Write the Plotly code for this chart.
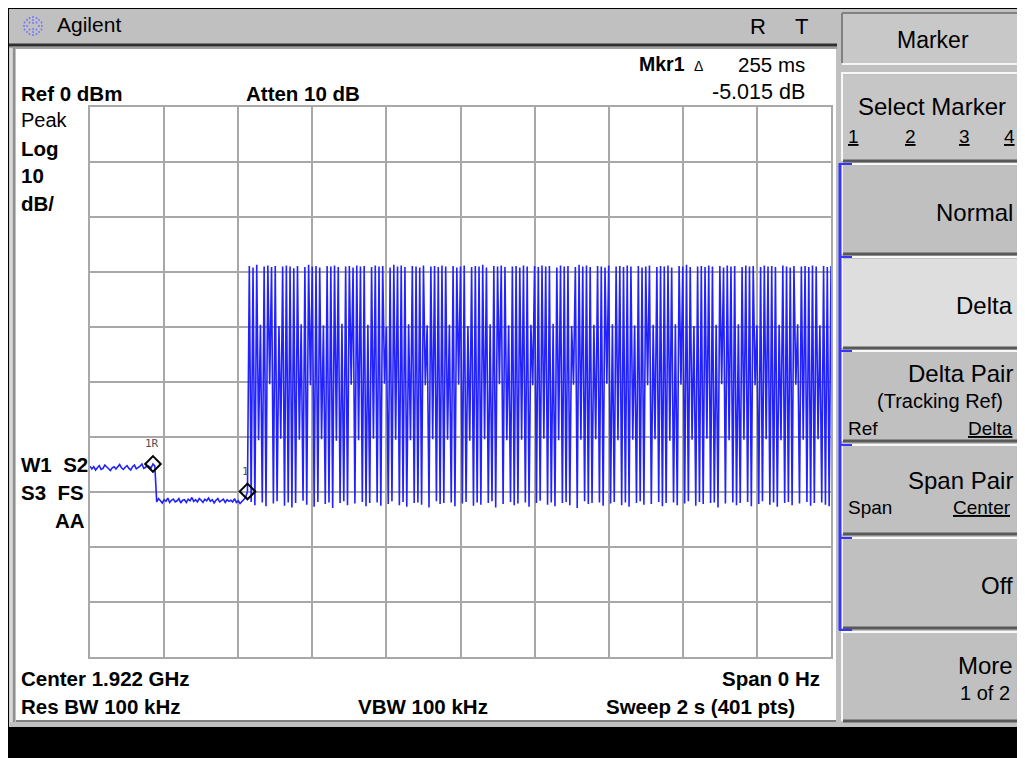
import plotly.graph_objects as go

sweep_time_s = 2.0
n_points = 401
ref_level_dbm = 0
db_per_div = 10

# before the marker-1R step (sweep points 0..35)
pre_step_dbm = [-65.3, -65.8, -65.4, -66.0, -65.6, -65.2, -65.9, -65.7, -65.1, -65.5,
                -65.9, -66.1, -65.6, -65.4, -65.8, -65.3, -65.0, -65.6, -65.9, -65.5,
                -65.2, -65.7, -66.0, -65.4, -65.1, -65.8, -65.6, -65.3, -64.9, -65.7,
                -65.5, -65.2, -65.4, -65.6, -64.9, -65.3]
# quiet interval between the step and the burst train (points 36..85)
post_step_dbm = [-71.8, -71.2, -71.6, -72.0, -71.4, -71.7, -71.1, -71.9, -71.5, -71.3,
                 -71.8, -71.6, -71.2, -72.0, -71.5, -71.4, -71.9, -71.3, -71.6, -71.0,
                 -71.7, -71.4, -71.8, -71.2, -71.5, -71.9, -71.3, -71.6, -71.1, -71.7,
                 -71.4, -72.0, -71.5, -71.2, -71.8, -71.6, -71.3, -71.9, -71.4, -71.7,
                 -71.5, -71.8, -71.2, -71.9, -71.6, -72.1, -71.7, -71.4, -71.0, -69.9]
# burst train: peak samples (even points 86..400)
burst_peak_dbm = [
    -28.9, -29.2, -28.7, -39.6, -29.0, -28.8, -29.1, -28.9, -39.8, -29.0,
    -28.8, -29.0, -29.3, -28.9, -39.5, -29.1, -28.7, -29.0, -28.9, -29.2,
    -39.7, -28.9, -29.0, -28.8, -29.1, -39.4, -29.0, -28.9, -29.2, -28.8,
    -29.0, -28.9, -39.6, -29.1, -28.8, -29.0, -28.9, -39.9, -29.2, -28.7,
    -29.0, -28.8, -29.1, -39.5, -28.9, -29.0, -29.2, -28.8, -39.7, -29.0,
    -28.9, -29.1, -28.8, -29.0, -39.6, -28.9, -29.2, -29.0, -28.8, -39.8,
    -29.1, -28.9, -29.0, -28.7, -29.2, -39.5, -28.9, -29.0, -28.8, -29.1,
    -39.7, -29.0, -28.9, -29.2, -28.8, -29.0, -39.6, -28.9, -29.1, -28.8,
    -29.0, -28.9, -39.4, -29.2, -28.8, -29.0, -28.9, -39.8, -29.1, -28.7,
    -29.0, -28.8, -29.1, -39.6, -28.9, -29.0, -29.2, -28.8, -39.5, -29.0,
    -28.9, -29.1, -28.8, -29.0, -39.7, -28.9, -29.2, -29.0, -28.8, -39.6,
    -29.1, -28.9, -29.0, -28.8, -29.2, -39.5, -28.9, -29.0, -28.7, -29.1,
    -39.8, -29.0, -28.9, -29.1, -28.8, -29.0, -39.6, -28.9, -29.2, -28.8,
    -29.0, -28.9, -39.5, -29.1, -28.8, -29.0, -28.9, -39.7, -29.1, -28.8,
    -29.0, -28.9, -29.1, -39.6, -28.8, -29.0, -29.2, -28.9, -39.5, -29.0,
    -28.9, -29.1, -28.8, -29.0, -39.7, -28.9, -29.1, -28.9]
# burst train: floor samples (odd points 87..399)
burst_floor_dbm = [
    -71.8, -72.4, -60.6, -71.9, -72.6, -50.4, -72.1, -71.7, -60.3, -72.5,
    -71.9, -72.8, -72.0, -60.5, -71.6, -72.3, -50.6, -72.7, -71.8, -60.4,
    -72.2, -71.9, -72.9, -60.7, -72.0, -71.7, -72.4, -50.5, -72.1, -60.6,
    -71.8, -72.6, -72.0, -60.3, -71.9, -72.5, -50.3, -72.2, -71.7, -60.5,
    -72.4, -71.8, -72.7, -60.6, -72.0, -71.9, -72.3, -50.6, -72.8, -60.4,
    -71.7, -72.2, -72.0, -60.5, -71.9, -72.6, -50.5, -72.1, -71.8, -60.7,
    -72.5, -71.9, -72.3, -60.4, -72.0, -71.7, -72.8, -50.4, -72.2, -60.6,
    -71.8, -72.4, -72.1, -60.5, -71.9, -72.7, -50.6, -72.0, -71.6, -60.3,
    -72.3, -71.9, -72.6, -60.6, -72.0, -71.8, -72.4, -50.5, -72.9, -60.5,
    -71.7, -72.2, -72.0, -60.4, -71.9, -72.5, -50.3, -72.1, -71.8, -60.6,
    -72.4, -71.9, -72.7, -60.5, -72.0, -71.7, -72.3, -50.6, -72.2, -60.4,
    -71.8, -72.6, -72.0, -60.7, -71.9, -72.4, -50.5, -72.1, -71.7, -60.5,
    -72.5, -71.8, -72.2, -60.3, -72.0, -71.9, -72.8, -50.4, -72.1, -60.6,
    -71.9, -72.4, -72.0, -60.5, -71.8, -72.6, -50.6, -72.2, -71.7, -60.4,
    -72.3, -71.9, -72.7, -60.6, -72.0, -71.8, -72.4, -50.5, -72.1, -60.5,
    -71.8, -72.5, -72.0, -60.4, -71.9, -72.3, -72.6]

marker_ref_index = 34      # "1R"
marker_delta_index = 85    # "1"
marker_labels = ["1R", "1"]

top_left_labels = ["Ref 0 dBm", "Atten 10 dB"]
side_labels = ["Peak", "Log", "10", "dB/"]
status_labels = ["W1  S2", "S3  FS", "AA"]
bottom_labels = ["Center 1.922 GHz", "Span 0 Hz", "Res BW 100 kHz", "VBW 100 kHz", "Sweep 2 s (401 pts)"]
marker_readout = ["Mkr1", "Δ", "255 ms", "-5.015 dB"]

# ---------------- build trace ----------------
burst = []
for p, f in zip(burst_peak_dbm, burst_floor_dbm):
    burst += [p, f]
burst.append(burst_peak_dbm[-1])
level = pre_step_dbm + post_step_dbm + burst
t = [i * sweep_time_s / (n_points - 1) for i in range(len(level))]

# ---------------- pixel helpers (page coordinates) ----------------
PAGE_W, PAGE_H = 1025, 758
BODY = 8                      # browser body margin
W, H = PAGE_W - BODY, PAGE_H - BODY
PL, PR, PT, PB = 90, 831, 107, 657   # plot area in page pixels
RX = 1014                     # right text edge of softkeys (visible area)


def px(x):
    return (x - PL) / (PR - PL)


def py(y):
    return (PB - y) / (PB - PT)


shapes = []


def rect(x0, y0, x1, y1, fill, lc=None, lw=0):
    shapes.append(dict(type="rect", xref="paper", yref="paper", layer="below",
                       x0=px(x0), x1=px(x1), y0=py(y1), y1=py(y0),
                       fillcolor=fill, line=dict(width=lw, color=lc or fill)))


def seg(x0, y0, x1, y1, color, w):
    shapes.append(dict(type="line", xref="paper", yref="paper", layer="below",
                       x0=px(x0), x1=px(x1), y0=py(y0), y1=py(y1),
                       line=dict(width=w, color=color)))


def dot(x, y, r, color):
    shapes.append(dict(type="circle", xref="paper", yref="paper", layer="below",
                       x0=px(x - r), x1=px(x + r), y0=py(y + r), y1=py(y - r),
                       fillcolor=color, line=dict(width=0, color=color)))


annotations = []
SANS = "Liberation Sans, Arial, Helvetica, sans-serif"


def txt(s, x, y, size, anchor="left", bold=False, color="#000000", family=SANS):
    annotations.append(dict(text=s, xref="paper", yref="paper", x=px(x), y=py(y),
                            xanchor=anchor, yanchor="middle", showarrow=False,
                            borderpad=0,
                            font=dict(size=size, family=family, color=color,
                                      weight="bold" if bold else "normal")))


# frame
rect(7, 7, PAGE_W + 5, PAGE_H + 5, "#c0c0c0")
seg(7, 8, PAGE_W + 5, 8, "#000000", 2)
seg(8, 7, 8, PAGE_H + 5, "#000000", 2)
# display area
rect(16, 49, 836, 721, "#ffffff")
seg(9, 45, 837, 45, "#303030", 3)
seg(9, 48, 837, 48, "#a0a0a0", 2)
seg(11, 48, 11, 722, "#d8d8d8", 3)
seg(14, 48, 14, 722, "#909090", 2)
seg(16, 721, 836, 721, "#808080", 2)
rect(9, 727, PAGE_W + 5, PAGE_H + 5, "#000000")

# logo dots (starburst)
cx, cy = 33, 26
for dx, dy in [(0, -9), (0, -6), (0, -3), (0, 3), (0, 6), (0, 9),
               (-9, 0), (-6, 0), (6, 0), (9, 0),
               (-6, -6), (-3.5, -3.5), (6, -6), (3.5, -3.5), (-6, 6), (-3.5, 3.5), (6, 6), (3.5, 3.5),
               (-3.5, -8), (3.5, -8), (-3.5, 8), (3.5, 8), (-8.5, -3.5), (-8.5, 3.5), (8.5, -3.5), (8.5, 3.5)]:
    dot(cx + dx, cy + dy, 0.9, "#7070ff")

# softkeys
buttons = [(13, 63, "#c8c8c8"), (75, 160, "#c6c6c6"), (166, 253, "#c0c0c0"),
           (259, 347, "#dedede"), (353, 440, "#c0c0c0"), (447, 533, "#c0c0c0"),
           (540, 627, "#c0c0c0"), (634, 720, "#c0c0c0")]
for i, (y0, y1, c) in enumerate(buttons):
    x0 = 843 if i else 842
    rect(x0, y0, PAGE_W + 5, y1, c)
    if i == 0:
        seg(x0, y0, PAGE_W + 5, y0, "#808080", 2)
        seg(x0, y0, x0, y1, "#808080", 2)
        seg(x0, y1 + 1, PAGE_W + 5, y1 + 1, "#f4f4f4", 2)
    else:
        seg(x0 - 2, y0 - 2, PAGE_W + 5, y0 - 2, "#f8f8f8", 2)
        seg(x0 - 1, y0 - 2, x0 - 1, y1 + 1, "#f8f8f8", 2)
        seg(x0, y1 + 1, PAGE_W + 5, y1 + 1, "#585858", 3)
# blue bracket
BLUE_UI = "#3535ff"
seg(840, 163, 840, 630, BLUE_UI, 3)
for yb in [164, 257, 351, 445, 538, 630]:
    seg(839, yb, 852, yb, BLUE_UI, 2)

# header texts
txt("Agilent", 56, 25, 21)
txt("R", 758, 27, 22, anchor="center")
txt("T", 801, 27, 22, anchor="center")
txt(marker_readout[0], 638, 64, 19.5, bold=True)
txt(marker_readout[1], 698, 66, 14, anchor="center")
txt(marker_readout[2], 806, 64, 20.5, anchor="right")
txt(marker_readout[3], 806, 92, 21.5, anchor="right")
BS = 20.5
txt(top_left_labels[0], 20, 93, BS, bold=True)
txt(top_left_labels[1], 245, 93, BS, bold=True)
txt(side_labels[0], 20, 120, 20)
txt(side_labels[1], 20, 148, BS, bold=True)
txt(side_labels[2], 20, 175, BS, bold=True)
txt(side_labels[3], 20, 203, BS, bold=True)
txt(status_labels[0], 20, 464, BS, bold=True)
txt(status_labels[1], 20, 492, BS, bold=True)
txt(status_labels[2], 86, 520, BS, anchor="right", bold=True)
txt(bottom_labels[0], 20, 678, BS, bold=True)
txt(bottom_labels[1], 821, 678, BS, anchor="right", bold=True)
txt(bottom_labels[2], 20, 706, BS, bold=True)
txt(bottom_labels[3], 423, 706, BS, anchor="center", bold=True)
txt(bottom_labels[4], 796, 706, BS, anchor="right", bold=True)

# softkey texts
txt("Marker", 933, 40, 23, anchor="center")
txt("Select Marker", 932, 106, 24, anchor="center")
for lab, xk in [("1", 853), ("2", 910), ("3", 964), ("4", 1009)]:
    txt("<u>" + lab + "</u>", xk, 136, 19, anchor="center")
txt("Normal", RX, 212, 24, anchor="right")
txt("Delta", RX, 305, 24, anchor="right")
txt("Delta Pair", RX, 373, 24, anchor="right")
txt("(Tracking Ref)", 940, 401, 20, anchor="center")
txt("Ref", 847, 428, 19)
txt("<u>Delta</u>", RX, 428, 19, anchor="right")
txt("Span Pair", RX, 481, 24, anchor="right")
txt("Span", 847, 507, 19)
txt("<u>Center</u>", RX - 2, 507, 19, anchor="right")
txt("Off", RX, 585, 24, anchor="right")
txt("More", RX, 665, 24, anchor="right")
txt("1 of 2", 985, 693, 20, anchor="center")

# marker labels (data coords)
for lab, idx, dx in [(marker_labels[0], marker_ref_index, -1), (marker_labels[1], marker_delta_index, -2)]:
    annotations.append(dict(text=lab, x=t[idx], y=level[idx], xref="x", yref="y",
                            showarrow=False, yshift=20, xshift=dx,
                            font=dict(size=11, family="DejaVu Sans Mono, monospace", color="#505050")))

fig = go.Figure()
fig.add_trace(go.Scatter(x=t, y=level, mode="lines",
                         line=dict(color="#2222ff", width=1.6), hoverinfo="skip"))
fig.add_trace(go.Scatter(x=[t[marker_ref_index], t[marker_delta_index]],
                         y=[level[marker_ref_index], level[marker_delta_index]],
                         mode="markers", cliponaxis=False, hoverinfo="skip",
                         marker=dict(symbol="diamond-open", size=12, color="#000000",
                                     line=dict(width=2, color="#000000"))))

fig.update_layout(
    width=W, height=H, autosize=False,
    margin=dict(l=PL - BODY, r=PAGE_W - PR, t=PT - BODY, b=PAGE_H - PB, pad=0),
    paper_bgcolor="#ffffff", plot_bgcolor="#ffffff",
    showlegend=False,
    shapes=shapes, annotations=annotations,
    xaxis=dict(range=[0, sweep_time_s], dtick=sweep_time_s / 10, showticklabels=False,
               ticks="", showgrid=True, gridcolor="#a8a8a8", gridwidth=2, zeroline=False,
               showline=True, mirror=True, linecolor="#a8a8a8", linewidth=2, fixedrange=True),
    yaxis=dict(range=[ref_level_dbm - 10 * db_per_div, ref_level_dbm], dtick=db_per_div,
               showticklabels=False, ticks="", showgrid=True, gridcolor="#a8a8a8", gridwidth=2,
               zeroline=False, showline=True, mirror=True, linecolor="#a8a8a8", linewidth=2,
               fixedrange=True),
)

fig.write_html("out.html", config={"displayModeBar": False})
